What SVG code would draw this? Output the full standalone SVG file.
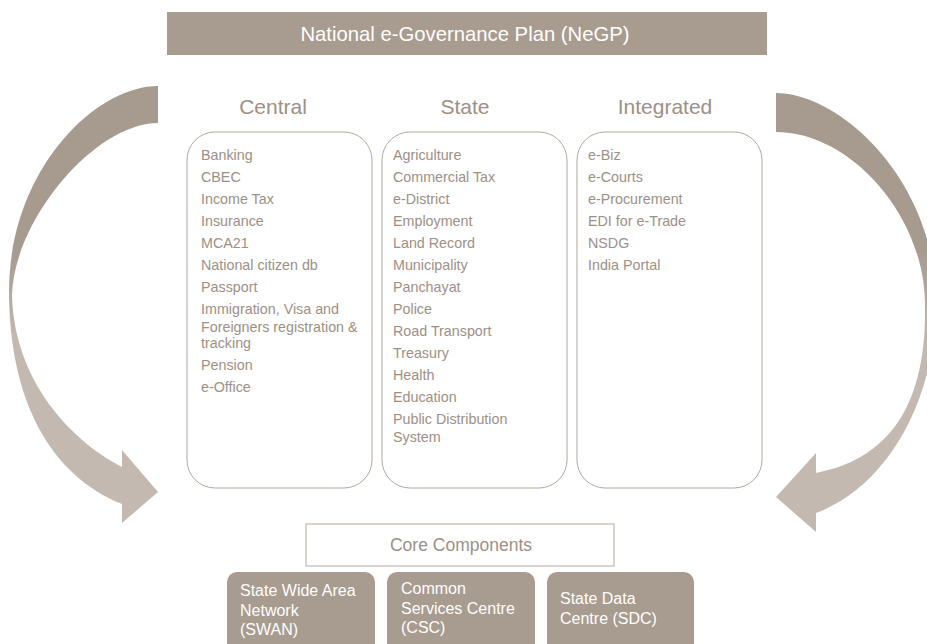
<svg xmlns="http://www.w3.org/2000/svg" width="927" height="644" viewBox="0 0 927 644">
<style>
.hdr{fill:#a89b8f}
.title{font-family:"Liberation Sans",Arial,sans-serif;font-size:21px;fill:#9c9086;text-anchor:middle}
.item{font-family:"Liberation Sans",Arial,sans-serif;font-size:14.3px;fill:#9c9086}
.col{fill:#fff;stroke:#b3a89e;stroke-width:1}
.core{fill:#fff;stroke:#b3a89e;stroke-width:1}
.wt{font-family:"Liberation Sans",Arial,sans-serif;font-size:16px;fill:#fff}
</style>
<defs>
<linearGradient id="gL" gradientUnits="userSpaceOnUse" x1="0" y1="86" x2="0" y2="523">
<stop offset="0" stop-color="#a79a8e"/><stop offset="0.38" stop-color="#a79a8e"/><stop offset="0.58" stop-color="#c3b9b1"/><stop offset="1" stop-color="#c3b9b1"/>
</linearGradient>
<linearGradient id="gR" gradientUnits="userSpaceOnUse" x1="0" y1="93" x2="0" y2="532">
<stop offset="0" stop-color="#a79a8e"/><stop offset="0.36" stop-color="#a79a8e"/><stop offset="0.58" stop-color="#c3b9b1"/><stop offset="1" stop-color="#c3b9b1"/>
</linearGradient>
</defs>
<rect width="927" height="644" fill="#fff"/>
<g id="connectors">
<path id="arrow-left" fill="url(#gL)" d="M158,86 C95,86 10,170 9,290 C9,400 50,475 122,504 L122,523 L158,492 L122,450 L122,467 C70,440 14,380 12,295 C14,220 95,123 158,123 Z"/>
<path id="arrow-right" fill="url(#gR)" d="M776,93 C840,93 935,180 936,300 C936,410 880,490 816,513 L816,532 L776,497 L816,453 L816,473 C885,460 927,410 925,305 C925,215 850,132 776,132 Z"/>
</g>
<g id="header">
<rect class="hdr" x="167" y="12" width="600" height="43"/>
<text x="465" y="41" class="wt" style="font-size:20.3px" text-anchor="middle">National e-Governance Plan (NeGP)</text>
</g>
<g id="central">
<text class="title" x="273" y="114">Central</text>
<rect class="col" x="187" y="132" width="185" height="356" rx="28"/>
<text class="item" x="201" y="160">Banking</text>
<text class="item" x="201" y="182">CBEC</text>
<text class="item" x="201" y="204">Income Tax</text>
<text class="item" x="201" y="226">Insurance</text>
<text class="item" x="201" y="248">MCA21</text>
<text class="item" x="201" y="270">National citizen db</text>
<text class="item" x="201" y="292">Passport</text>
<text class="item" x="201" y="314">Immigration, Visa and</text>
<text class="item" x="201" y="332">Foreigners registration &amp;</text>
<text class="item" x="201" y="348">tracking</text>
<text class="item" x="201" y="370">Pension</text>
<text class="item" x="201" y="392">e-Office</text>
</g>
<g id="state">
<text class="title" x="465" y="114">State</text>
<rect class="col" x="382" y="132" width="185" height="356" rx="28"/>
<text class="item" x="393" y="160">Agriculture</text>
<text class="item" x="393" y="182">Commercial Tax</text>
<text class="item" x="393" y="204">e-District</text>
<text class="item" x="393" y="226">Employment</text>
<text class="item" x="393" y="248">Land Record</text>
<text class="item" x="393" y="270">Municipality</text>
<text class="item" x="393" y="292">Panchayat</text>
<text class="item" x="393" y="314">Police</text>
<text class="item" x="393" y="336">Road Transport</text>
<text class="item" x="393" y="358">Treasury</text>
<text class="item" x="393" y="380">Health</text>
<text class="item" x="393" y="402">Education</text>
<text class="item" x="393" y="424">Public Distribution</text>
<text class="item" x="393" y="442">System</text>
</g>
<g id="integrated">
<text class="title" x="665" y="114">Integrated</text>
<rect class="col" x="577" y="132" width="185" height="356" rx="28"/>
<text class="item" x="588" y="160">e-Biz</text>
<text class="item" x="588" y="182">e-Courts</text>
<text class="item" x="588" y="204">e-Procurement</text>
<text class="item" x="588" y="226">EDI for e-Trade</text>
<text class="item" x="588" y="248">NSDG</text>
<text class="item" x="588" y="270">India Portal</text>
</g>
<g id="core">
<rect class="core" x="306" y="524" width="308" height="42"/>
<text class="title" style="font-size:17.5px" x="461" y="551">Core Components</text>
</g>
<g id="swan">
<rect class="hdr" x="227" y="572" width="148" height="84" rx="10"/>
<text class="wt" x="240" y="596">State Wide Area</text>
<text class="wt" x="240" y="616">Network</text>
<text class="wt" x="240" y="635">(SWAN)</text>
</g>
<g id="csc">
<rect class="hdr" x="387" y="572" width="148" height="84" rx="10"/>
<text class="wt" x="401" y="594">Common</text>
<text class="wt" x="401" y="614">Services Centre</text>
<text class="wt" x="401" y="633">(CSC)</text>
</g>
<g id="sdc">
<rect class="hdr" x="547" y="572" width="147" height="84" rx="10"/>
<text class="wt" x="560" y="604">State Data</text>
<text class="wt" x="560" y="624">Centre (SDC)</text>
</g>
</svg>
